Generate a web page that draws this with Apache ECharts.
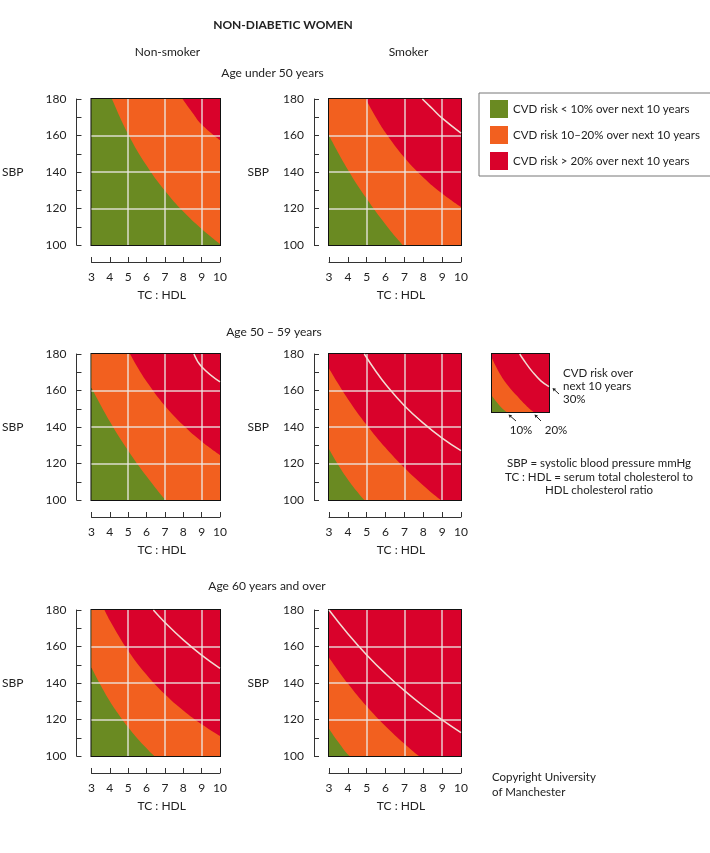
<!DOCTYPE html>
<html>
<head>
<meta charset="utf-8">
<script src="https://cdn.jsdelivr.net/npm/echarts@6/dist/echarts.min.js"></script>
<style>html,body{margin:0;padding:0;background:#fff;}#c{width:710px;height:853px;}</style>
</head>
<body>
<div id="c"></div>
<script>
// ---------- DATA ----------
const xMin = 3, xMax = 10, yMin = 100, yMax = 180;
const xTickStep = 1, yLabelStep = 20;
const gridX = [5, 7, 9];
const gridY = [120, 140, 160];

const LABEL_LOW = 'CVD risk < 10% over next 10 years';
const LABEL_MID = 'CVD risk 10–20% over next 10 years';
const LABEL_HIGH = 'CVD risk > 20% over next 10 years';

// risk contour lines [TC:HDL, SBP]; points below 100 continue a contour past the bottom edge (clipped)
// Age under 50, non-smoker
const u50NS_10 = [[4.12,180],[5,160.7],[6,143.5],[7,129.7],[8,118.3],[9,108.8],[10,100.6]];
const u50NS_20 = [[7.96,180],[8.5,172.5],[9,166],[10,157.4]];
const u50NS_30 = [];
// Age under 50, smoker
const u50S_10 = [[3,160],[4,141.3],[5,125.3],[6,111.2],[6.9,100],[8,87.6],[10,68.8]];
const u50S_20 = [[4.95,180],[5.5,169.7],[6,161.5],[7,147.9],[8,137],[9,128.2],[10,120.8]];
const u50S_30 = [[7.95,180],[8.5,174.5],[9,169.5],[10,161.3]];
// Age 50-59, non-smoker
const a50NS_10 = [[3,161.5],[4,143],[5,127],[6,113],[7.03,100],[8,89.5],[10,70.7]];
const a50NS_20 = [[5.1,180],[5.5,172.9],[6,165],[7,151.7],[8,141],[9,132.1],[10,124.7]];
const a50NS_30 = [[8.58,180],[9,173],[10,164.7]];
// Age 50-59, smoker
const a50S_10 = [[3,128],[3.5,119.1],[4,111.3],[4.5,104.5],[4.87,100],[6,88.3],[10,62.5]];
const a50S_20 = [[3,172],[4,155.4],[5,141.1],[6,128.6],[7,117.7],[8,108],[8.93,100],[10,91.7]];
const a50S_30 = [[4.87,180],[5.5,170.3],[6,163.4],[7,151.7],[8,142.1],[9,133.9],[10,127]];
// Age 60+, non-smoker
const a60NS_10 = [[3,148.5],[3.5,138.7],[4,130],[4.5,122.5],[5,115.7],[5.5,109.6],[6,104.2],[6.42,100],[8,86.9],[10,74.5]];
const a60NS_20 = [[3.71,180],[4,174.3],[5,157.7],[6,144.5],[7,133.8],[8,124.9],[9,117.4],[10,111]];
const a60NS_30 = [[6.37,180],[7,173.2],[8,163.6],[9,155.3],[10,148]];
// Age 60+, smoker
const a60S_10 = [[3,115],[3.5,107.6],[4.09,100],[6,81.4],[10,58.6]];
const a60S_20 = [[3,154],[4,139.7],[5,127.2],[6,116.3],[7,106.7],[7.77,100],[10,83.5]];
const a60S_30 = [[3,180],[4,167],[5,155.4],[6,145.1],[7,135.8],[8,127.4],[9,119.8],[10,112.8]];
// Small key chart
const key_10 = [[3,122],[4,108],[4.8,100],[6,90],[10,68]];
const key_20 = [[3,174],[4,152],[5,136],[6,123],[7,111],[8.1,100],[10,86]];
const key_30 = [[6.4,180],[7,170],[8,155],[9,143],[10,135]];

// ---------- STYLE / LAYOUT ----------
const FONT = 'Lato';
const GREEN = '#6a8a22', ORANGE = '#f2601f', RED = '#d9022b';
const TXT = '#222', AX = '#333';
const GRIDLINE = 'rgba(236,232,230,0.88)';
const LINE30 = '#f2ddd4';

const panels = [
  {left:88,  top:99,  c10:u50NS_10, c20:u50NS_20, c30:u50NS_30, gap:53},
  {left:329, top:99,  c10:u50S_10,  c20:u50S_20,  c30:u50S_30,  gap:45},
  {left:88,  top:354, c10:a50NS_10, c20:a50NS_20, c30:a50NS_30, gap:53},
  {left:329, top:354, c10:a50S_10,  c20:a50S_20,  c30:a50S_30,  gap:45},
  {left:88,  top:610, c10:a60NS_10, c20:a60NS_20, c30:a60NS_30, gap:53},
  {left:329, top:610, c10:a60S_10,  c20:a60S_20,  c30:a60S_30,  gap:45}
];
const PW = 132, PH = 146;

const grids = [], xAxes = [], yAxes = [], series = [];

function areaSeries(i, name, data, color, origin, z, extra) {
  return Object.assign({
    type: 'line', name: name, xAxisIndex: i, yAxisIndex: i, data: data,
    smooth: 0.45, symbol: 'none', silent: true, clip: true, z: z,
    color: color, itemStyle: {color: color},
    lineStyle: {width: 0, opacity: 0},
    areaStyle: {color: color, opacity: 1, origin: origin}
  }, extra || {});
}

panels.forEach((p, i) => {
  grids.push({left: p.left, top: p.top, width: PW, height: PH, show: true,
    borderColor: '#111', borderWidth: 2, backgroundColor: 'transparent'});
  xAxes.push({
    gridIndex: i, type: 'value', min: xMin, max: xMax, interval: xTickStep, offset: 17,
    axisLine: {show: true, onZero: false, lineStyle: {color: AX, width: 1}},
    axisTick: {show: true, inside: true, length: 5, lineStyle: {color: AX}},
    splitLine: {show: false},
    axisLabel: {margin: 9, fontSize: 12, color: TXT, fontFamily: FONT},
    name: 'TC : HDL', nameLocation: 'middle', nameGap: 27,
    nameTextStyle: {fontSize: 12, color: TXT, fontFamily: FONT, padding: [0,0,0,12]}
  });
  yAxes.push({
    gridIndex: i, type: 'value', min: yMin, max: yMax, interval: yLabelStep, offset: 15,
    axisLine: {show: true, onZero: false, lineStyle: {color: AX, width: 1}},
    axisTick: {show: true, inside: true, length: 5, lineStyle: {color: AX}},
    minorTick: {show: true, splitNumber: 2, length: 5, lineStyle: {color: AX}},
    splitLine: {show: false},
    axisLabel: {margin: 10, fontSize: 12, color: TXT, fontFamily: FONT},
    name: 'SBP', nameLocation: 'middle', nameRotate: 0, nameGap: p.gap,
    nameTextStyle: {fontSize: 12, color: TXT, fontFamily: FONT, padding: [9,0,0,0]}
  });
  series.push(areaSeries(i, LABEL_LOW, [[xMin, yMax], [xMax, yMax]], GREEN, 'start', 1));
  series.push(areaSeries(i, LABEL_MID, p.c10, ORANGE, 'end', 2));
  series.push(areaSeries(i, LABEL_HIGH, p.c20, RED, 'end', 3, {
    markLine: {
      silent: true, symbol: 'none', animation: false, label: {show: false},
      lineStyle: {color: GRIDLINE, width: 1.5, type: 'solid'},
      emphasis: {disabled: true},
      data: gridX.map(v => ({xAxis: v})).concat(gridY.map(v => ({yAxis: v})))
    }
  }));
  if (p.c30.length) {
    series.push({type: 'line', xAxisIndex: i, yAxisIndex: i, data: p.c30, smooth: 0.45,
      symbol: 'none', silent: true, z: 6, lineStyle: {color: LINE30, width: 1.5}});
  }
});

// key chart
const K = panels.length;
grids.push({left: 492, top: 354, width: 57, height: 58, show: true, borderColor: '#111', borderWidth: 2});
xAxes.push({gridIndex: K, type: 'value', min: xMin, max: xMax, show: false});
yAxes.push({gridIndex: K, type: 'value', min: yMin, max: yMax, show: false});
series.push(areaSeries(K, 'keyLow', [[xMin, yMax], [xMax, yMax]], GREEN, 'start', 1));
series.push(areaSeries(K, 'keyMid', key_10, ORANGE, 'end', 2));
series.push(areaSeries(K, 'keyHigh', key_20, RED, 'end', 3));
series.push({type: 'line', xAxisIndex: K, yAxisIndex: K, data: key_30, smooth: 0.45,
  symbol: 'none', silent: true, z: 6, lineStyle: {color: LINE30, width: 1.5}});

function txt(text, x, y, opts) {
  opts = opts || {};
  return {type: 'text', x: x, y: y, silent: true, z: 10, style: {
    text: text, fill: TXT, align: opts.align || 'center', verticalAlign: 'middle',
    font: (opts.weight || 'normal') + ' ' + (opts.size || 12) + 'px ' + FONT
  }};
}
function arrow(tx, ty, hx, hy) {
  const dx = hx - tx, dy = hy - ty, L = Math.sqrt(dx*dx + dy*dy);
  const ux = dx / L, uy = dy / L, s = 3.2, w = 1.8;
  const bx = hx - ux * s, by = hy - uy * s;
  return [
    {type: 'line', silent: true, z: 10, shape: {x1: tx, y1: ty, x2: bx, y2: by}, style: {stroke: TXT, lineWidth: 1}},
    {type: 'polygon', silent: true, z: 10, shape: {points: [[hx, hy], [bx - uy * w, by + ux * w], [bx + uy * w, by - ux * w]]}, style: {fill: TXT}}
  ];
}

const graphics = [
  txt('NON-DIABETIC WOMEN', 283, 25, {weight: 'bold', size: 12}),
  txt('Non-smoker', 167.5, 52),
  txt('Smoker', 408.5, 52),
  txt('Age under 50 years', 272.5, 73),
  txt('Age 50 \u2013 59 years', 274, 332),
  txt('Age 60 years and over', 267, 586),
  txt('CVD risk over', 563, 373, {align: 'left', size: 11.5}),
  txt('next 10 years', 563, 386, {align: 'left', size: 11.5}),
  txt('30%', 563, 399, {align: 'left', size: 11.5}),
  txt('10%', 521, 430, {size: 11.5}),
  txt('20%', 556, 430, {size: 11.5}),
  txt('SBP = systolic blood pressure mmHg', 599, 463, {size: 11.5}),
  txt('TC : HDL = serum total cholesterol to', 599, 477, {size: 11.5}),
  txt('HDL cholesterol ratio', 599, 490, {size: 11.5}),
  txt('Copyright University', 492, 777, {align: 'left', size: 11.5}),
  txt('of Manchester', 492, 792, {align: 'left', size: 11.5})
].concat(arrow(516, 421, 508.5, 414.5), arrow(541, 421, 534.5, 414.5), arrow(559, 394, 552.5, 388));

const option = {
  animation: false,
  backgroundColor: '#fff',
  textStyle: {fontFamily: FONT},
  legend: {
    orient: 'vertical', left: 479, top: 93, padding: [7, 20, 6, 11],
    itemWidth: 18, itemHeight: 18, itemGap: 8, icon: 'rect', selectedMode: false,
    borderColor: '#777', borderWidth: 1, borderRadius: 0,
    textStyle: {fontFamily: FONT, fontSize: 11.5, color: TXT},
    data: [
      {name: LABEL_LOW, itemStyle: {color: GREEN}},
      {name: LABEL_MID, itemStyle: {color: ORANGE}},
      {name: LABEL_HIGH, itemStyle: {color: RED}}
    ]
  },
  grid: grids, xAxis: xAxes, yAxis: yAxes, series: series,
  graphic: graphics
};
const chart = echarts.init(document.getElementById('c'), null, {renderer: 'canvas'});
chart.setOption(option);
</script>
</body>
</html>
